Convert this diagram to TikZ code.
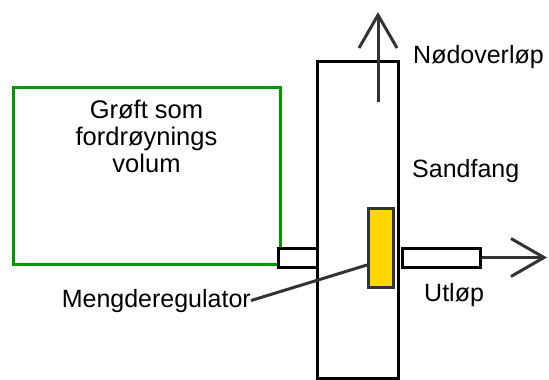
\documentclass[tikz,border=0pt]{standalone}
\usepackage{fontspec}
\setmainfont{Liberation Sans}
\usetikzlibrary{arrows.meta}
\definecolor{grn}{RGB}{0,150,0}
\definecolor{gold}{RGB}{255,214,0}
\definecolor{dk}{RGB}{51,51,51}
\begin{document}
\begin{tikzpicture}[x=1pt,y=-1pt,
  box/.style={draw=black,line width=3pt,fill=white,inner sep=0pt,rectangle},
  lbl/.style={inner sep=0pt,font=\fontsize{25}{27}\selectfont},
  flow/.style={draw=dk,line width=3pt,-{Straight Barb[length=33pt,width=38pt,line width=3pt]}}]
\useasboundingbox (0,0) rectangle (549,380);
\node[draw=grn,line width=3pt,inner sep=0pt,minimum width=267pt,minimum height=177pt] (ditch) at (146.5,175.5) {};
\node[lbl,align=center,anchor=base,font=\fontsize{25.5}{27}\selectfont] (ditchtxt) at (146.5,172) {Grøft som\\fordrøynings\\volum};
\node[box,minimum width=81pt,minimum height=317pt] (sand) at (357.5,219.5) {};
\coordinate (upstart) at (378,102);
\coordinate (uptip) at (378,12);
\draw[flow] (upstart) -- (uptip);
\node[box,minimum width=39pt,minimum height=19pt] (inpipe) at (297.5,257.5) {};
\node[box,minimum width=78pt,minimum height=19pt] (outpipe) at (441,257.5) {};
\coordinate (outtip) at (547,257.5);
\draw[flow] (outpipe.east) -- (outtip);
\node[draw=dk,fill=gold,line width=3pt,inner sep=0pt,minimum width=25pt,minimum height=79pt] (reg) at (380.5,247.5) {};
\node[lbl,anchor=base east] (meng) at (251,307) {Mengderegulator};
\coordinate (regpt) at (367,265);
\draw[dk,line width=3pt] (meng.east) -- (regpt);
\node[lbl,anchor=base west] (nod) at (413,63) {Nødoverløp};
\node[lbl,anchor=base west] (sandlbl) at (412,177) {Sandfang};
\node[lbl,anchor=base west] (utl) at (424,301) {Utløp};
\end{tikzpicture}
\end{document}
